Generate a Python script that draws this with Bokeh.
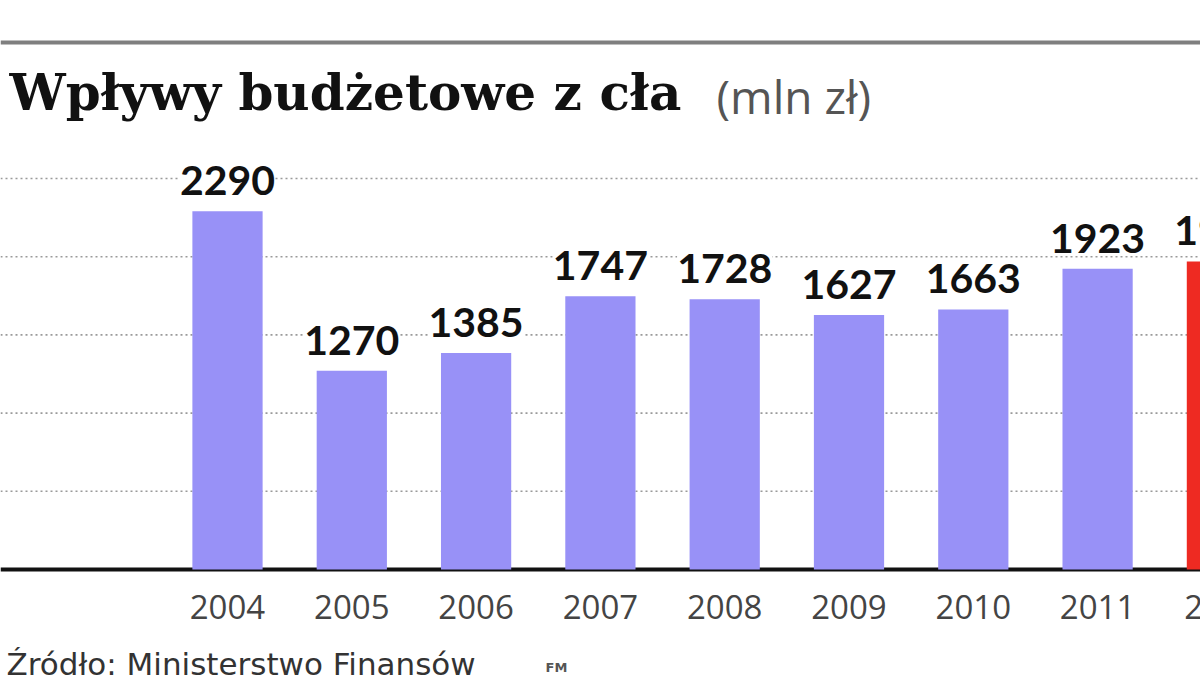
from bokeh.plotting import figure
from bokeh.models import ColumnDataSource, Range1d, Span, Label, LabelSet
from bokeh.core.properties import value
from bokeh.embed import file_html
from bokeh.resources import INLINE

# ---- data ----
years = [2004, 2005, 2006, 2007, 2008, 2009, 2010, 2011, 2012]
values = [2290, 1270, 1385, 1747, 1728, 1627, 1663, 1923, 1970]
year_labels = ["2004", "2005", "2006", "2007", "2008", "2009", "2010", "2011", "2012"]
grid_values = [500, 1000, 1500, 2000, 2500]
title_text = "Wpływy budżetowe z cła"
subtitle_text = "(mln zł)"
source_text = "Źródło: Ministerstwo Finansów"

W, H = 1200, 680
OFF = 0
BASE_PY = 569          # baseline in page pixels
UNITS_PER_PX = 1 / 0.1564
X0_PX, STEP_PX = 227, 124.3


def yd(py):
    return (BASE_PY - py) * UNITS_PER_PX


def xd(px):
    return years[0] + (px - X0_PX) / STEP_PX


p = figure(width=W, height=H, output_backend="svg", toolbar_location=None,
           x_range=Range1d(xd(OFF), xd(OFF + W)),
           y_range=Range1d(yd(OFF + H), yd(OFF)),
           min_border=0, outline_line_color=None)
p.axis.visible = False
p.xgrid.visible = False
p.ygrid.visible = False
p.background_fill_color = "white"

# grid lines
for g in grid_values:
    p.add_layout(Span(location=g, dimension="width", line_color="#9a9a9a",
                      line_width=1.6, line_dash="2 3", level="underlay"))
# baseline
p.add_layout(Span(location=0, dimension="width", line_color="#111111",
                  line_width=4, level="underlay"))
# top rule
p.add_layout(Span(location=yd(42), dimension="width", line_color="#7f7f7f",
                  line_width=4))

colors = ["#9891f7"] * (len(years) - 1) + ["#ee2a22"]
src = ColumnDataSource(dict(x=years, top=values, color=colors,
                            lab=[str(v) for v in values],
                            ylab=year_labels,
                            yl=[yd(606)] * len(years)))
p.vbar(x="x", top="top", bottom=0, width=0.565, fill_color="color",
       line_color=None, source=src)

p.add_layout(LabelSet(x="x", y="top", text="lab", source=src, y_offset=16,
                      text_align="center", text_baseline="bottom",
                      text_font=value("Lato"), text_font_style="bold",
                      text_font_size="41px", text_color="#111111",
                      background_fill_color="white"))

p.add_layout(LabelSet(x="x", y="yl", text="ylab", source=src,
                      text_align="center", text_baseline="middle",
                      text_font=value("Open Sans"), text_font_size="33px",
                      text_color="#444444"))

p.add_layout(Label(x=xd(9), y=yd(92), text=title_text,
                   text_font="DejaVu Serif", text_font_style="bold",
                   text_font_size="50px", text_color="#111111",
                   text_baseline="alphabetic"))
p.add_layout(Label(x=xd(716), y=yd(95), text=subtitle_text,
                   text_font="Open Sans", text_font_size="46px",
                   text_color="#555555", text_baseline="alphabetic"))
p.add_layout(Label(x=xd(6), y=yd(663), text=source_text,
                   text_font="DejaVu Sans", text_font_size="31px",
                   text_color="#333333", text_baseline="alphabetic"))
p.add_layout(Label(x=xd(545), y=yd(667), text="FM",
                   text_font="DejaVu Sans", text_font_size="13px",
                   text_font_style="bold",
                   text_color="#555555", text_baseline="alphabetic"))

open("out.html", "w").write(file_html(p, INLINE))
